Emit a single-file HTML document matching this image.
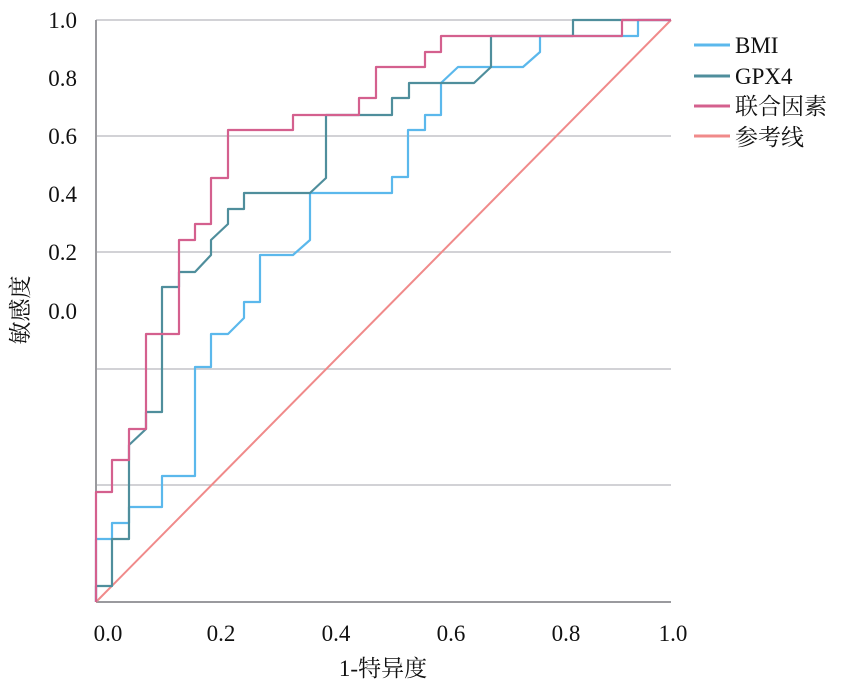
<!DOCTYPE html>
<html><head><meta charset="utf-8"><style>
html,body{margin:0;padding:0;background:#fff;}
svg{display:block;}
text{font-family:"Liberation Serif","Noto Serif CJK SC",serif;fill:#111;}
</style></head><body>
<svg width="852" height="689" viewBox="0 0 852 689" xmlns="http://www.w3.org/2000/svg">
<g stroke="#c4c4c8" stroke-width="1.6">
<line x1="96" y1="20" x2="671" y2="20"/>
<line x1="96" y1="136" x2="671" y2="136"/>
<line x1="96" y1="252" x2="671" y2="252"/>
<line x1="96" y1="369" x2="671" y2="369"/>
<line x1="96" y1="485" x2="671" y2="485"/>
</g>
<line x1="96" y1="20" x2="96" y2="602" stroke="#9a9a9e" stroke-width="2"/>
<line x1="96" y1="602" x2="671" y2="602" stroke="#9a9a9e" stroke-width="2"/>
<line x1="96" y1="602" x2="671" y2="20" stroke="#f08a8a" stroke-width="2"/>
<g fill="none" stroke-width="2.2" stroke-linejoin="round">
<polyline stroke="#5bb8ec" points="96,602 96,539 112,539 112,523 129,523 129,507 162,507 162,476 195,476 195,367 211,367 211,334 228,334 244,318 244,302 260,302 260,255 293,255 310,240 310,193 392,193 392,177 408,177 408,130 425,130 425,115 441,115 441,83 458,67 523,67 540,52 540,36 638,36 638,20 671,20"/>
<polyline stroke="#4f8e9c" points="96,602 96,586 112,586 112,539 129,539 129,445 146,429 146,412 162,412 162,287 179,287 179,272 195,272 211,255 211,240 228,224 228,209 244,209 244,193 310,193 326,178 326,115 392,115 392,98 409,98 409,83 474,83 491,67 491,36 573,36 573,20 671,20"/>
<polyline stroke="#d4608e" points="96,602 96,492 112,492 112,460 129,460 129,429 146,429 146,334 179,334 179,240 195,240 195,224 211,224 211,178 228,178 228,130 293,130 293,115 359,115 359,98 376,98 376,67 425,67 425,52 441,52 441,36 622,36 622,20 671,20"/>
</g>
<g font-size="23" text-anchor="end">
<text x="77" y="28">1.0</text>
<text x="77" y="86">0.8</text>
<text x="77" y="144">0.6</text>
<text x="77" y="202">0.4</text>
<text x="77" y="260">0.2</text>
<text x="77" y="319">0.0</text>
</g>
<g font-size="23" text-anchor="middle">
<text x="108" y="641">0.0</text>
<text x="221" y="641">0.2</text>
<text x="336" y="641">0.4</text>
<text x="451" y="641">0.6</text>
<text x="566" y="641">0.8</text>
<text x="673" y="641">1.0</text>
<text x="383" y="676">1-特异度</text>
<text transform="translate(28,310) rotate(-90)">敏感度</text>
</g>
<g stroke-width="3">
<line x1="694" y1="45" x2="730" y2="45" stroke="#5bb8ec"/>
<line x1="694" y1="76" x2="730" y2="76" stroke="#4f8e9c"/>
<line x1="694" y1="106" x2="730" y2="106" stroke="#d4608e"/>
<line x1="694" y1="136" x2="730" y2="136" stroke="#f08a8a"/>
</g>
<g font-size="23">
<text x="735" y="53">BMI</text>
<text x="735" y="84">GPX4</text>
<text x="735" y="114">联合因素</text>
<text x="735" y="145">参考线</text>
</g>
</svg>
</body></html>
